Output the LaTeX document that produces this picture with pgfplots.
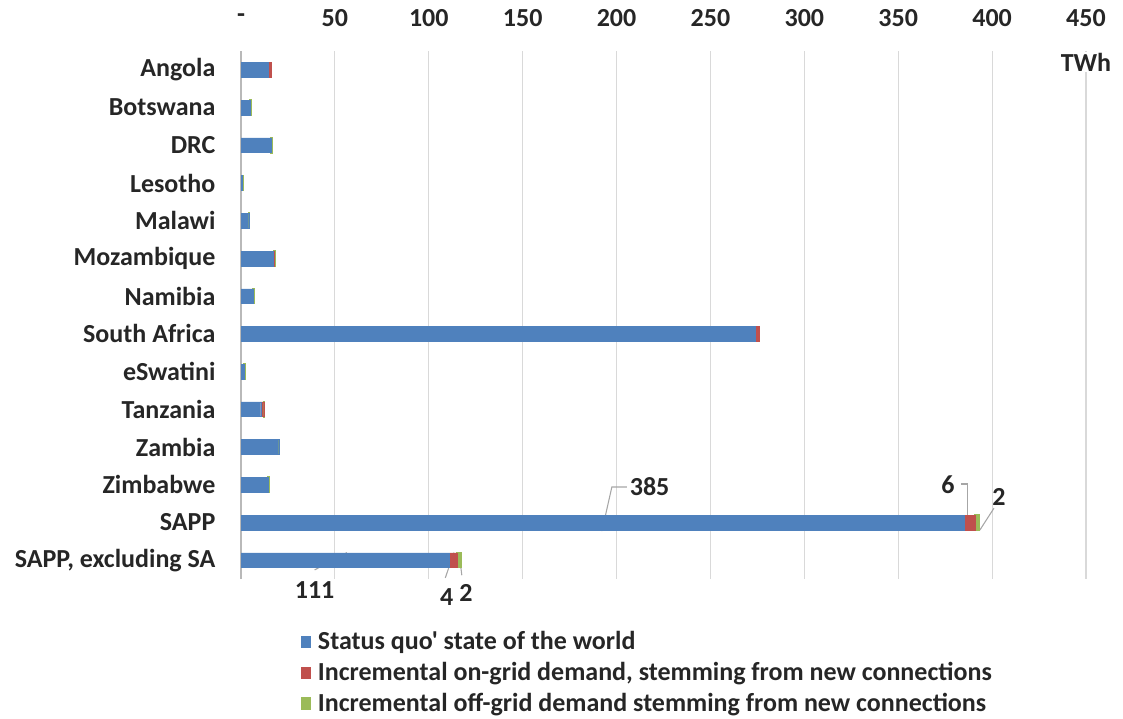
\documentclass[border=0pt]{standalone}
\usepackage{fontspec}
\setmainfont{Carlito}[Ligatures=TeXOff]
\usepackage{pgfplots}
\pgfplotsset{compat=1.18}
\definecolor{sqblue}{HTML}{4F81BD}
\definecolor{ongrid}{HTML}{C0504D}
\definecolor{offgrid}{HTML}{9BBB59}
\definecolor{gridgray}{HTML}{D9D9D9}
\definecolor{txt}{HTML}{262626}
\definecolor{leadgray}{HTML}{A6A6A6}
\tikzset{
  lbl/.style={font=\fontsize{19.5}{23}\selectfont\bfseries, text=txt},
  ldr/.style={draw=leadgray, line width=0.8pt},
}
\begin{document}
\begin{tikzpicture}
\useasboundingbox (0,0) rectangle (842.25pt,538.5pt);
\begin{axis}[
  at={(180.75pt,104.25pt)}, anchor=south west,
  scale only axis, width=633.75pt, height=396pt,
  xbar stacked, bar width=11pt,
  xmin=0, xmax=450, ymin=-0.5, ymax=13.5, y dir=reverse,
  clip=false,
  axis x line*=top, axis y line*=left,
  x axis line style={draw=none},
  y axis line style={draw=gray!55, line width=0.9pt},
  major tick length=0pt,
  xtick={0,50,...,450},
  xticklabels={-,50,100,150,200,250,300,350,400,450},
  xticklabel pos=top,
  xticklabel style={anchor=center, yshift=24.75pt, lbl},
  ytick={0,...,13},
  yticklabels={Angola,Botswana,DRC,Lesotho,Malawi,Mozambique,Namibia,South Africa,eSwatini,Tanzania,Zambia,Zimbabwe,SAPP,{SAPP, excluding SA}},
  yticklabel style={anchor=east, inner sep=0pt, xshift=-19pt, lbl},
  xmajorgrids, grid style={draw=gridgray, line width=0.9pt},
  legend style={at={(0.0655,-0.089)}, anchor=north west, draw=none, fill=none,
    lbl, row sep=4pt,
    /tikz/every odd column/.append style={column sep=3pt}},
  legend cell align=left,
  legend image code/.code={\fill[#1] (0pt,-4.4pt) rectangle (6.6pt,4.4pt);},
]
% status quo demand
\addplot[fill=sqblue, draw=sqblue, line width=0.3pt] coordinates {
  (14.4,0) (5.0,1) (16.1,2) (0.9,3) (4.1,4) (17.0,5) (6.6,6) (274,7)
  (1.8,8) (10.5,9) (20.1,10) (14.6,11) (385,12) (111,13)};
% incremental on-grid demand
\addplot[fill=ongrid, draw=ongrid, line width=0.3pt] coordinates {
  (1.6,0) (0,1) (0.1,2) (0,3) (0,4) (0.7,5) (0,6) (2,7)
  (0,8) (1.6,9) (0,10) (0,11) (6,12) (4,13)};
% incremental off-grid demand
\addplot[fill=offgrid, draw=offgrid, line width=1.4pt] coordinates {
  (0.2,0) (0.2,1) (0.2,2) (0.2,3) (0.2,4) (0.2,5) (0.15,6) (0,7)
  (0.15,8) (0.2,9) (0.2,10) (0.1,11) (2,12) (2,13)};
\legend{Status quo' state of the world,
  {Incremental on-grid demand, stemming from new connections},
  Incremental off-grid demand stemming from new connections}

% unit and value call-outs
\node[fill=white, inner sep=1pt, lbl] at (axis cs:450,-0.5) [yshift=-8.25pt] {TWh};
\draw[ldr] (axis cs:192.2,12.23) -- (axis cs:197.5,11.06) -- (axis cs:205.5,11.06);
\node[anchor=west, inner sep=2pt, lbl] at (axis cs:205.5,11.06) {385};
\draw[ldr] (axis cs:383.4,10.98) -- (axis cs:387.1,10.98) -- (axis cs:387.1,11.94);
\node[lbl] at (axis cs:376.5,11.0) {6};
\draw[ldr] (axis cs:393.5,12.2) -- (axis cs:401,11.62);
\node[lbl] at (axis cs:403.7,11.33) {2};
\draw[ldr] (axis cs:39.2,13.26) -- (axis cs:56.4,12.8);
\node[lbl] at (axis cs:39.2,13.8) {111};
\draw[ldr] (axis cs:108.8,13.47) -- (axis cs:113.4,12.8);
\node[lbl] at (axis cs:109.5,13.97) {4};
\draw[ldr] (axis cs:117.6,13.4) -- (axis cs:116.1,12.8);
\node[lbl] at (axis cs:119.8,13.86) {2};
\end{axis}
\end{tikzpicture}
\end{document}
